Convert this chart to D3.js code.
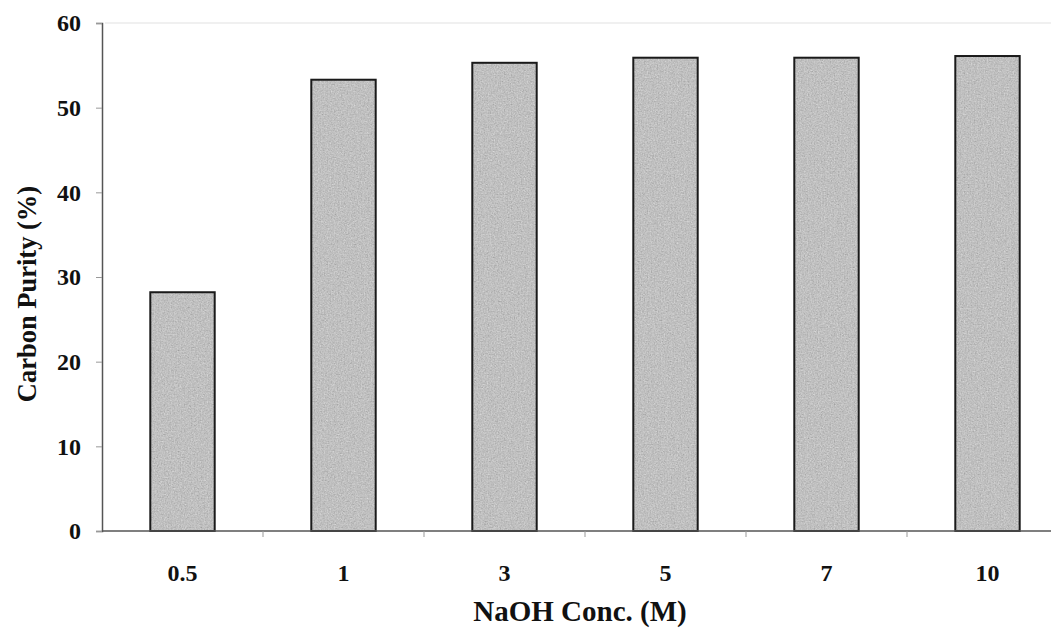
<!DOCTYPE html>
<html>
<head>
<meta charset="utf-8">
<script src="https://cdn.jsdelivr.net/npm/d3@7"></script>
<style>
  html, body { margin: 0; padding: 0; background: #fff; }
  svg { display: block; }
  text { font-family: "Liberation Serif", "Times New Roman", serif; font-weight: bold; fill: #111; }
</style>
</head>
<body>
<svg id="chart" width="1051" height="635"></svg>
<script>
const categories = ["0.5", "1", "3", "5", "7", "10"];
const purity = [28.2, 53.3, 55.3, 55.9, 55.9, 56.1];
const yTicks = [0, 10, 20, 30, 40, 50, 60];

const svg = d3.select("#chart");
const mLeft = 102, mRight = 1068, mTop = 23, mBottom = 531;

const x = d3.scaleBand().domain(categories).range([mLeft, mRight]).paddingInner(0.6).paddingOuter(0.3);
const y = d3.scaleLinear().domain([0, 60]).range([mBottom, mTop]);

const defs = svg.append("defs");
const f = defs.append("filter").attr("id", "grain").attr("x", 0).attr("y", 0).attr("width", "100%").attr("height", "100%");
f.append("feTurbulence").attr("type", "fractalNoise").attr("baseFrequency", 0.7).attr("numOctaves", 3).attr("seed", 3).attr("result", "noise");
f.append("feColorMatrix").attr("in", "noise").attr("type", "matrix")
  .attr("values", "0.33 0.33 0.33 0 0  0.33 0.33 0.33 0 0  0.33 0.33 0.33 0 0  0 0 0 0 1").attr("result", "gnoise");
f.append("feComposite").attr("in", "SourceGraphic").attr("in2", "gnoise").attr("operator", "arithmetic")
  .attr("k1", 0).attr("k2", 0.75).attr("k3", 0.6).attr("k4", -0.15).attr("result", "mix");
f.append("feComposite").attr("in", "mix").attr("in2", "SourceGraphic").attr("operator", "in");

// faint top border
svg.append("line").attr("x1", mLeft + 3).attr("x2", 1051).attr("y1", mTop).attr("y2", mTop)
  .attr("stroke", "#f0f0f0").attr("stroke-width", 2);

// bars
const bars = svg.append("g");
bars.selectAll("rect.fill").data(purity).join("rect")
  .attr("class", "fill")
  .attr("x", (d, i) => x(categories[i]))
  .attr("y", d => y(d))
  .attr("width", x.bandwidth())
  .attr("height", d => y(0) - y(d))
  .attr("fill", "#bcbcbc")
  .attr("filter", "url(#grain)");
bars.selectAll("rect.edge").data(purity).join("rect")
  .attr("class", "edge")
  .attr("x", (d, i) => x(categories[i]))
  .attr("y", d => y(d))
  .attr("width", x.bandwidth())
  .attr("height", d => y(0) - y(d))
  .attr("fill", "none")
  .attr("stroke", "#1a1a1a")
  .attr("stroke-width", 2);

// y axis
const yAxis = svg.append("g").attr("transform", `translate(${mLeft},0)`)
  .call(d3.axisLeft(y).tickValues(yTicks).tickSize(6).tickPadding(15).tickFormat(d3.format("d")));
yAxis.select(".domain").attr("stroke", "#555").attr("stroke-width", 1.5);
yAxis.selectAll(".tick line").attr("stroke", "#999");
yAxis.selectAll(".tick text").style("font-size", "24px").style("font-family", "Liberation Serif, serif").style("font-weight", "bold").attr("fill", "#111");

// x axis
const step = x.step();
const xg = svg.append("g");
xg.append("line").attr("x1", mLeft).attr("x2", mRight).attr("y1", mBottom).attr("y2", mBottom)
  .attr("stroke", "#555").attr("stroke-width", 1.5);
xg.selectAll("line.tick").data(categories).join("line")
  .attr("class", "tick")
  .attr("x1", c => x(c) + x.bandwidth() / 2 + step / 2)
  .attr("x2", c => x(c) + x.bandwidth() / 2 + step / 2)
  .attr("y1", mBottom).attr("y2", mBottom + 6)
  .attr("stroke", "#999");
xg.selectAll("text").data(categories).join("text")
  .attr("x", c => x(c) + x.bandwidth() / 2)
  .attr("y", 581)
  .attr("text-anchor", "middle")
  .style("font-size", "24px")
  .text(c => c);

// titles
svg.append("text").attr("x", 580).attr("y", 621).attr("text-anchor", "middle")
  .style("font-size", "29px").text("NaOH Conc. (M)");
svg.append("text").attr("transform", "translate(36,294) rotate(-90)").attr("text-anchor", "middle")
  .style("font-size", "26.5px").text("Carbon Purity (%)");
</script>
</body>
</html>
